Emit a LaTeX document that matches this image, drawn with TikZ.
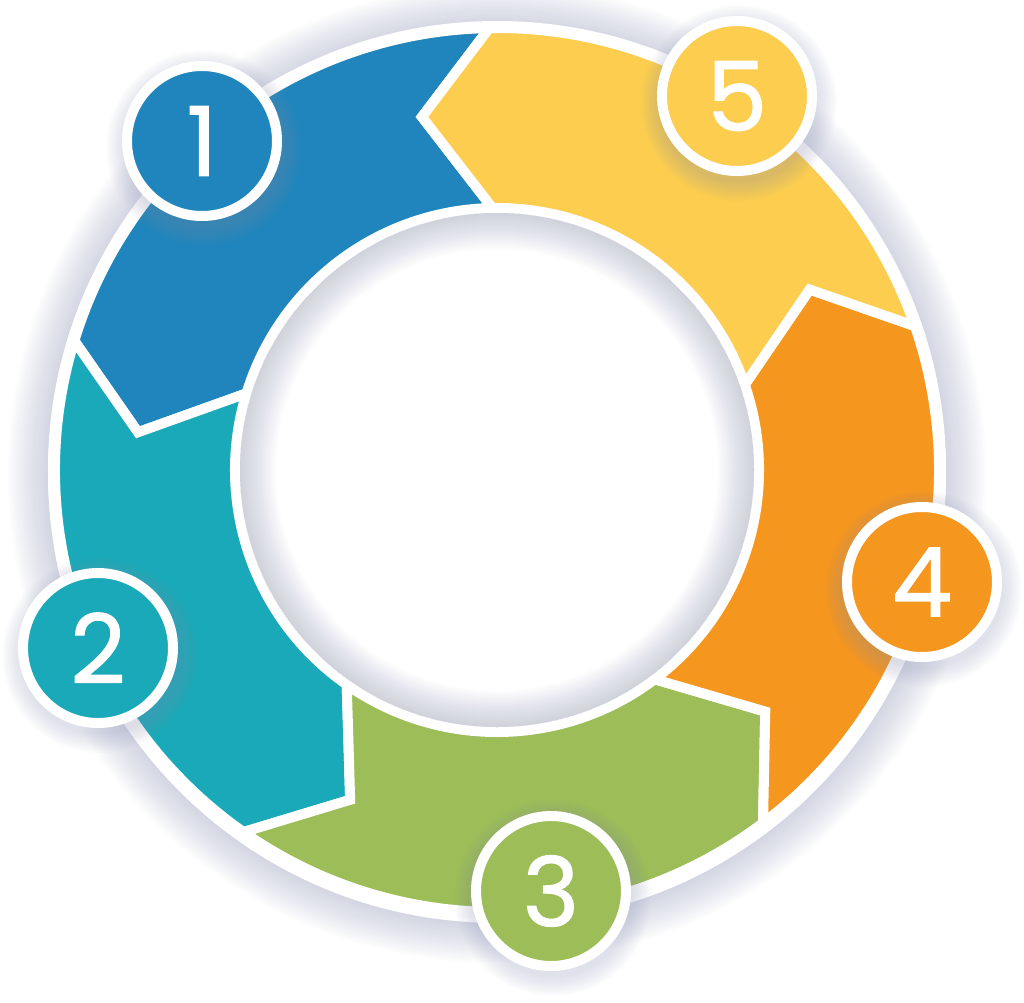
\documentclass[tikz,border=0pt]{standalone}
\usepackage{fontspec}
\setmainfont{Poppins}
\newfontfamily\badgefont{Poppins}[FakeBold=1.2]
\usetikzlibrary{calc}
\definecolor{segblue}{HTML}{1F85BC}
\definecolor{segteal}{HTML}{19A9B8}
\definecolor{seggreen}{HTML}{9CBD58}
\definecolor{segorange}{HTML}{F5961F}
\definecolor{segyellow}{HTML}{FCCD4E}
\definecolor{shadowgrey}{HTML}{8C93B4}

\begin{document}
\begin{tikzpicture}[x=1pt,y=1pt,
    badge/.style={circle,draw=white,line width=10pt,minimum size=150pt,inner sep=0pt,
      text=white,font=\badgefont\fontsize{96}{96}\selectfont},
    seg/.style={draw=white,line width=10pt,line join=miter}]
  \useasboundingbox (-497,-532) rectangle (527,470);

  % Soft shadow round the ring
  \foreach \w [evaluate=\w as \r using 449+\w/2] in {2,4,...,40}
    \draw[shadowgrey,opacity=0.025,line width=\w pt] (0,-4) circle[radius=\r pt];
  \fill[white] (0,0) circle[radius=449pt];

  % Arrow segments (counter-clockwise)
  \foreach \a/\col [evaluate=\a as \c using \a+72] in
      {91/segblue,163/segteal,235/seggreen,307/segorange,379/segyellow}
    \filldraw[seg,fill=\col] (\a:442pt) -- ({\a+11}:361pt) -- (\a:262pt)
      arc[start angle=\a, end angle=\c, radius=262pt]
      -- ({\c+11}:361pt) -- (\c:442pt)
      arc[start angle=\c, end angle=\a, radius=442pt] -- cycle;

  % Inner disc with its shadow
  \fill[white] (0,0) circle[radius=257pt];
  \foreach \w [evaluate=\w as \r using 257-\w/2] in {2,4,...,36}
    \draw[shadowgrey,opacity=0.025,line width=\w pt] (0,0) circle[radius=\r pt];

  % Number badges
  \foreach \n/\x/\y/\col in {1/-295/329/segblue,2/-399/-178/segteal,
      3/54/-421/seggreen,4/425/-112/segorange,5/240/374/segyellow}{
    \foreach \s in {1,...,10}
      \fill[shadowgrey,opacity=0.03] (\x+2,\y-7) circle[radius=78+2*\s];
    \node[badge,fill=\col] (b\n) at (\x,\y) {\n};
  }
\end{tikzpicture}
\end{document}
